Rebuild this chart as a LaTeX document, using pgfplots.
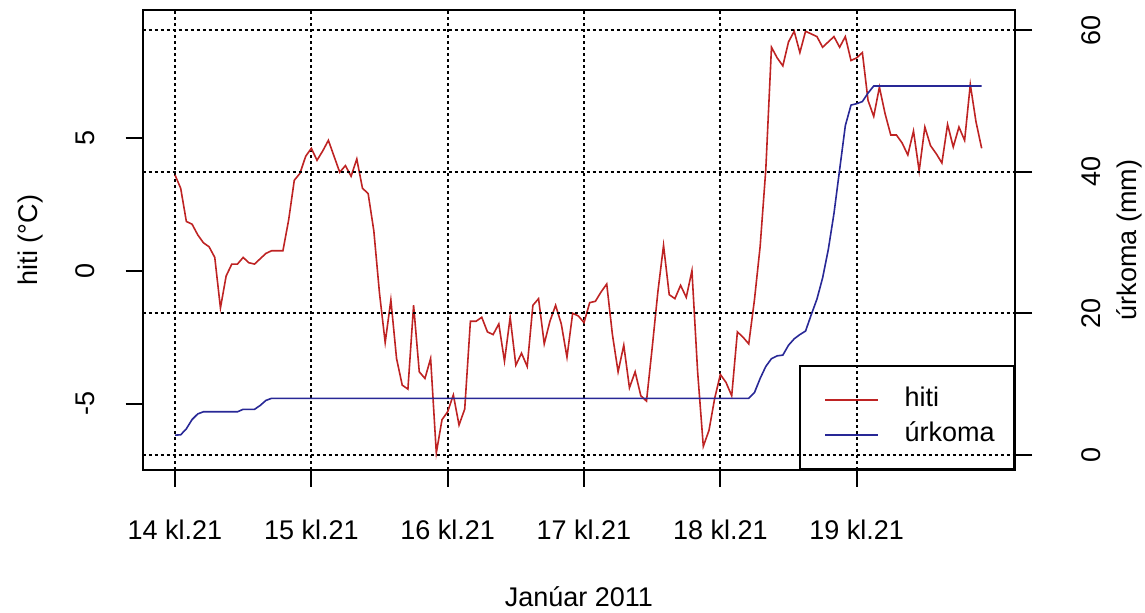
\documentclass[border=0pt]{standalone}
\usepackage{fontspec}
\setmainfont{Liberation Sans}
\usepackage{pgfplots}
\pgfplotsset{compat=1.18}
\definecolor{tred}{RGB}{190,35,35}
\definecolor{pblue}{RGB}{40,40,150}
\pgfplotsset{
 common/.style={
  at={(71.35pt,71.5pt)}, anchor=south west,
  scale only axis, width=436.15pt, height=230pt,
  xmin=-5.686, xmax=147.87,
  axis line style={line width=1pt},
  major tick length=8.5pt, tick align=outside,
  every tick/.style={black, line width=1pt},
  /pgf/number format/assume math mode=true,
  tick label style={font=\fontsize{13.5}{16}\selectfont, inner sep=0pt},
  label style={font=\fontsize{13.5}{16}\selectfont, inner sep=0pt},
  grid style={black, line width=0.9pt, dash pattern=on 1.5pt off 1.5pt},
 },
}
\begin{document}
\begin{tikzpicture}[font=\fontsize{13.5}{16}\selectfont]
\useasboundingbox (0,0) rectangle (572.5pt,306.5pt);
\begin{axis}[common,
  ymin=-7.49, ymax=9.80,
  xtick={0,24,48,72,96,120},
  xticklabels={14 kl.21,15 kl.21,16 kl.21,17 kl.21,18 kl.21,19 kl.21},
  xtick pos=bottom, ytick pos=left,
  ytick={-5,0,5}, yticklabels={-5,0,5},
  xmajorgrids,
  xticklabel style={anchor=base, yshift=-26.5pt},
  yticklabel style={xshift=-15.5pt, rotate=90, anchor=base},
  xlabel={Janúar 2011},
  xlabel style={at={(axis description cs:0.5,0)}, anchor=base, yshift=-68.5pt},
  ylabel={hiti (°C)},
  ylabel style={at={(axis description cs:-0.1211,0.5)}, anchor=base},
]
\addplot[tred, line width=0.8pt, mark=none] table {
0 3.6
1 3.1
2 1.85
3 1.75
4 1.35
5 1.05
6 0.9
7 0.5
8 -1.4
9 -0.2
10 0.25
11 0.25
12 0.5
13 0.3
14 0.25
15 0.45
16 0.65
17 0.75
18 0.75
19 0.75
20 1.9
21 3.4
22 3.66
23 4.3
24 4.6
25 4.15
26 4.5
27 4.9
28 4.3
29 3.7
30 3.95
31 3.55
32 4.2
33 3.1
34 2.9
35 1.5
36 -0.85
37 -2.7
38 -1.1
39 -3.3
40 -4.3
41 -4.45
42 -1.3
43 -3.8
44 -4.05
45 -3.3
46 -6.85
47 -5.6
48 -5.3
49 -4.67
50 -5.8
51 -5.2
52 -1.9
53 -1.9
54 -1.75
55 -2.3
56 -2.4
57 -2.0
58 -3.4
59 -1.75
60 -3.55
61 -3.1
62 -3.6
63 -1.3
64 -1.05
65 -2.75
66 -1.9
67 -1.3
68 -2.0
69 -3.25
70 -1.6
71 -1.7
72 -1.95
73 -1.2
74 -1.15
75 -0.8
76 -0.5
77 -2.4
78 -3.8
79 -2.8
80 -4.4
81 -3.8
82 -4.7
83 -4.9
84 -2.9
85 -0.8
86 0.95
87 -0.9
88 -1.05
89 -0.55
90 -1.0
91 0.0
92 -3.8
93 -6.6
94 -6.0
95 -4.8
96 -3.9
97 -4.2
98 -4.7
99 -2.3
100 -2.5
101 -2.75
102 -1.1
103 0.9
104 3.8
105 8.4
106 8.0
107 7.7
108 8.6
109 9.0
110 8.2
111 9.0
112 8.9
113 8.8
114 8.4
115 8.6
116 8.8
117 8.4
118 8.8
119 7.9
120 8.0
121 8.2
122 6.4
123 5.8
124 6.9
125 5.9
126 5.1
127 5.1
128 4.8
129 4.35
130 5.25
131 3.75
132 5.4
133 4.7
134 4.4
135 4.05
136 5.5
137 4.65
138 5.4
139 4.9
140 7.0
141 5.6
142 4.6
};
\end{axis}
\begin{axis}[common,
  ymin=-2.118, ymax=62.83,
  axis y line*=right, axis x line=none,
  ytick={0,20,40,60}, yticklabels={0,20,40,60},
  ymajorgrids,
  yticklabel style={xshift=34pt, rotate=90, anchor=base},
  ylabel={úrkoma (mm)},
  ylabel style={at={(axis description cs:1.1387,0.5)}, anchor=base},
  legend cell align=left,
  legend style={at={(rel axis cs:1,0)}, anchor=south east, draw=black, line width=1pt, fill=none,
    inner xsep=12.15pt, inner ysep=11.5pt, row sep=6.5pt, column sep=12.85pt,
    font=\fontsize{13.5}{16}\selectfont,
    nodes={inner sep=0pt, text height=9pt, text depth=2pt, text width=42.5pt, align=left}},
  legend image code/.code={\draw[#1, line width=0.8pt] (0pt,0pt) -- (26.5pt,0pt);},
]
\addlegendimage{tred, line width=0.8pt}
\addlegendentry{hiti}
\addplot[pblue, line width=0.8pt, mark=none] table {
0 2.8
1 2.85
2 3.7
3 5.0
4 5.8
5 6.1
11 6.1
12 6.45
14 6.45
15 7.0
16 7.7
17 8.0
101 8.0
102 8.8
103 10.8
104 12.5
105 13.6
106 14.0
107 14.1
108 15.5
109 16.4
110 17.0
111 17.5
112 19.8
113 22.0
114 25.0
115 29.0
116 34.1
117 40.3
118 46.5
119 49.4
120 49.6
121 49.9
122 51.1
123 52.1
142 52.1
};
\addlegendentry{úrkoma}
\end{axis}
\end{tikzpicture}
\end{document}
